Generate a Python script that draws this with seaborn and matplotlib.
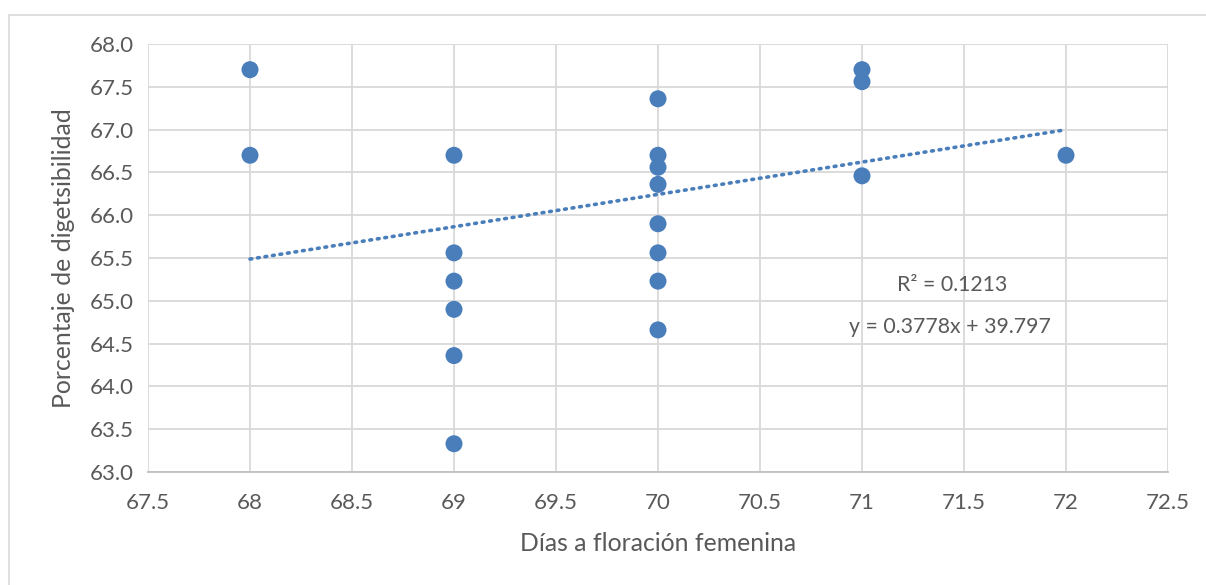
import numpy as np
import pandas as pd
import matplotlib
matplotlib.use('Agg')
import matplotlib.pyplot as plt
import seaborn as sns
from matplotlib.lines import Line2D

# Data
dias = [68, 68,
        69, 69, 69, 69, 69, 69,
        70, 70, 70, 70, 70, 70, 70, 70,
        71, 71, 71,
        72]
digest = [67.70, 66.70,
          66.70, 65.56, 65.23, 64.90, 64.36, 63.33,
          67.36, 66.70, 66.56, 66.36, 65.90, 65.56, 65.23, 64.66,
          67.70, 67.56, 66.46,
          66.70]

# trendline as reported on the chart
slope = 0.3778
intercept = 39.797
r2 = 0.1213

x_ticks = [67.5, 68, 68.5, 69, 69.5, 70, 70.5, 71, 71.5, 72, 72.5]
x_tick_labels = ['67.5', '68', '68.5', '69', '69.5', '70', '70.5', '71', '71.5', '72', '72.5']
y_ticks = [63.0, 63.5, 64.0, 64.5, 65.0, 65.5, 66.0, 66.5, 67.0, 67.5, 68.0]

df = pd.DataFrame({'Dias': dias, 'Digestibilidad': digest})

sns.set_style('white')
plt.rcParams['font.family'] = ['Lato', 'DejaVu Sans']

blue = '#4a7ebb'
grid = '#d9d9d9'
txt = '#595959'

fig = plt.figure(figsize=(12.06, 5.85), dpi=100)
ax = fig.add_axes([148 / 1206, 1 - 472 / 585, (1168 - 148) / 1206, (472 - 44) / 585])

# outer chart border (top and left visible)
fig.add_artist(Line2D([9 / 1206, 9 / 1206], [0, 1 - 14.5 / 585], transform=fig.transFigure,
                      color=grid, lw=1.2))
fig.add_artist(Line2D([9 / 1206, 1], [1 - 14.5 / 585, 1 - 14.5 / 585], transform=fig.transFigure,
                      color=grid, lw=1.2))

sns.scatterplot(data=df, x='Dias', y='Digestibilidad', ax=ax, color=blue, s=150,
                edgecolor='none', zorder=3, legend=False)

xs = np.array([min(dias), max(dias)])
ax.plot(xs, slope * xs + intercept, color=blue, lw=2.6, linestyle=(0, (0.5, 1.6)),
        dash_capstyle='round', zorder=2)

ax.set_xlim(67.5, 72.5)
ax.set_ylim(63.0, 68.0)
ax.set_xticks(x_ticks)
ax.set_xticklabels(x_tick_labels)
ax.set_yticks(y_ticks)
ax.set_yticklabels([f'{v:.1f}' for v in y_ticks])
ax.grid(True, color=grid, lw=1.3)
ax.set_axisbelow(True)
for s in ['top', 'right', 'left']:
    ax.spines[s].set_visible(False)
ax.spines['bottom'].set_color('#bfbfbf')
ax.spines['bottom'].set_linewidth(1.3)
ax.tick_params(axis='both', length=0, labelsize=16, labelcolor=txt)
ax.tick_params(axis='x', pad=15)
ax.tick_params(axis='y', pad=10)

ax.set_xlabel('Días a floración femenina', fontsize=17.8, color=txt, labelpad=14)
ax.set_ylabel('Porcentaje de digetsibilidad', fontsize=17.8, color=txt, labelpad=11)

ax.text(71.44, 65.18, f'R² = {r2}', ha='center', va='center', fontsize=15.3, color=txt)
ax.text(71.43, 64.69, f'y = {slope}x + {intercept}', ha='center', va='center',
        fontsize=15.3, color=txt)

fig.savefig('out.png', dpi=100, facecolor='white')
